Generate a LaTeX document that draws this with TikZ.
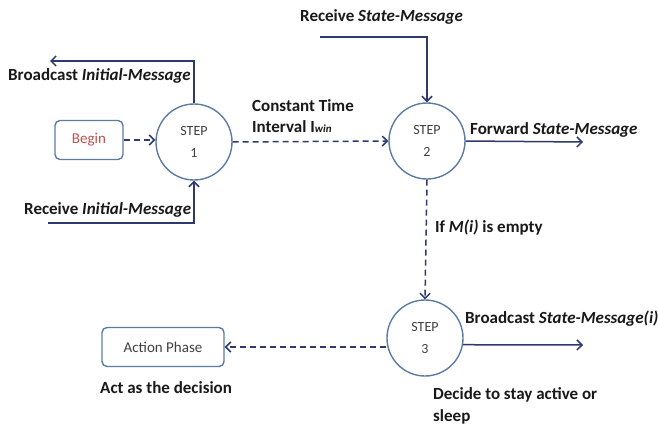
\documentclass[tikz,border=0pt]{standalone}
\usepackage{fontspec}
\setmainfont{Carlito}
\usetikzlibrary{arrows.meta}
\definecolor{ringblue}{HTML}{5B7BA3}
\definecolor{linenavy}{HTML}{2E3A6E}
\definecolor{begred}{HTML}{C0504D}
\definecolor{boxtext}{HTML}{404040}
\tikzset{
  stepnode/.style={circle, draw=ringblue, line width=1.4pt, minimum size=76pt, inner sep=0pt,
    align=center, font=\fontsize{14}{22}\selectfont, text=boxtext},
  phasebox/.style={rectangle, rounded corners=5pt, draw=ringblue, line width=1.4pt,
    minimum height=39pt, align=center, font=\fontsize{15}{17}\selectfont},
  lab/.style={font=\bfseries\fontsize{17}{20}\selectfont, inner sep=0pt, text=black!90},
  flow/.style={draw=linenavy, line width=1.5pt, -{Straight Barb[length=5pt,width=10pt]}},
  dflow/.style={flow, dash pattern=on 6pt off 4pt},
}
\begin{document}
\begin{tikzpicture}[x=1pt,y=-1pt]
\useasboundingbox[fill=white] (0,0) rectangle (658,428);

% the three steps
\node[stepnode] (s1) at (194,142) {STEP\\1};
\node[stepnode] (s2) at (427,141) {STEP\\2};
\node[stepnode] (s3) at (425,338) {STEP\\3};

% boxes
\node[phasebox, minimum width=68pt, text=begred] (begin) at (89,140) {Begin};
\node[phasebox, minimum width=122pt, text=boxtext] (action) at (163,347) {Action Phase};

% labels
\node[lab, anchor=base west] (lbi) at (8,80) {Broadcast \textit{Initial-Message}};
\node[lab, anchor=base west] (lri) at (24,214) {Receive \textit{Initial-Message}};
\node[lab, anchor=base west] (lct) at (252,111) {Constant Time};
\node[lab, anchor=base west] (liw) at (252,132) {Interval I\textit{\fontsize{11}{12}\selectfont win}};
\node[lab, anchor=base west] (lrs) at (300,22) {Receive \textit{State-Message}};
\node[lab, anchor=base west] (lfs) at (470,134) {Forward \textit{State-Message}};
\node[lab, anchor=base west] (lif) at (435,232) {If \textit{M(i)} is empty};
\node[lab, anchor=base west] (lbs) at (465,323) {Broadcast \textit{State-Message(i)}};
\node[lab, anchor=base west, align=left] (ldc) at (433,399) {Decide to stay active or};
\node[lab, anchor=base west] (lsl) at (433,421) {sleep};
\node[lab, anchor=base west] (lact) at (100,393) {Act as the decision};

% free ends of the solid connectors
\coordinate (bcEnd) at (50,61);
\coordinate (riStart) at (48,223);
\coordinate (rsStart) at (320,37);
\coordinate (fwEnd) at (583,142);
\coordinate (bsEnd) at (583,345);

% connectors
\draw[flow] (s1.north) |- (bcEnd);
\draw[flow] (riStart) -| (s1.south);
\draw[flow] (rsStart) -| (s2.north);
\draw[flow] (s2.east) -- (fwEnd);
\draw[flow] (s3.-10) -- (bsEnd);

\draw[dflow] (begin.east) -- (s1.west |- begin.east);
\draw[dflow] (s1.east) -- (s2.west);
\draw[dflow] (s2.south) -- (s3.north);
\draw[dflow] (s3.west |- action.east) -- (action.east);
\end{tikzpicture}
\end{document}
